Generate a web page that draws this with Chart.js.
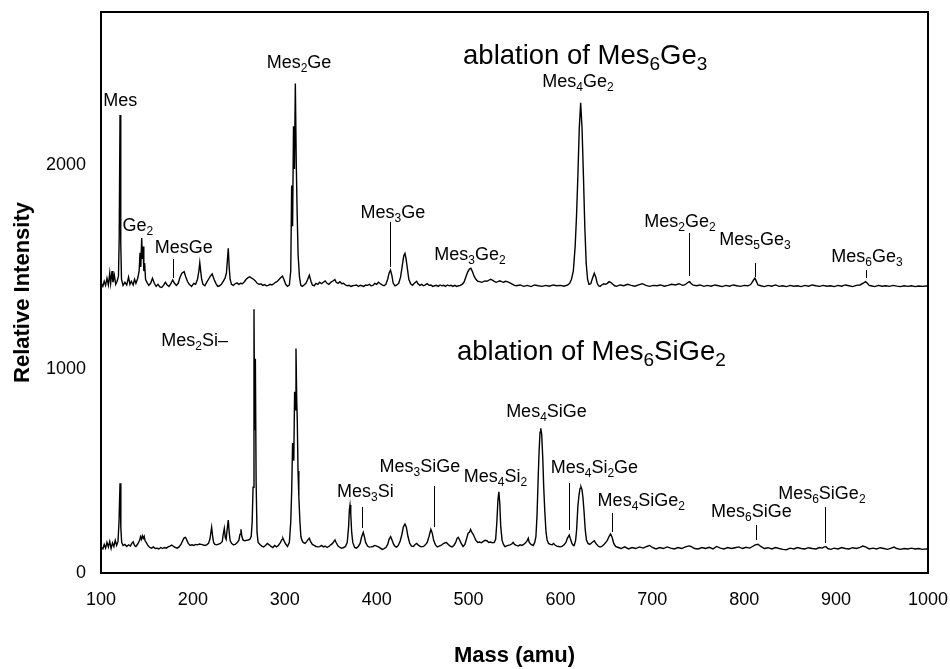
<!DOCTYPE html>
<html>
<head>
<meta charset="utf-8">
<script src="https://cdn.jsdelivr.net/npm/chart.js@4.4.1/dist/chart.umd.min.js"></script>
<style>
  html, body { margin: 0; padding: 0; background: #fff; }
  #wrap { width: 950px; height: 669px; }
</style>
</head>
<body>
<div id="wrap"><canvas id="chart" width="950" height="669"></canvas></div>
<script>
// ---------- Data (mass in amu, relative intensity) ----------
// upper trace: ablation of Mes6Ge3
const spectrumGe3 = [
  [100.5,1418],[102,1405],[103.5,1430],[105,1410],[106.5,1445],[108,1412],[109.5,1470],[110.5,1420],[112,1480],[113,1425],
  [114.5,1460],[116,1415],[117.5,1430],[119,1455],[119.8,1640],[120.7,2245],[121.5,1620],[122.3,1440],[124,1410],[126,1425],
  [128,1412],[130,1450],[131.5,1415],[133,1430],[135,1412],[136.5,1440],[138,1420],[140,1445],[141.5,1480],[142.5,1570],
  [143.3,1500],[144.3,1642],[145,1540],[145.8,1600],[146.6,1480],[147.5,1520],[148.5,1440],[150,1425],[152,1410],[154,1420],
  [156,1445],[158,1420],[160,1405],[162,1415],[164,1402],[166,1400],[168,1410],[170,1425],[172,1412],[174,1405],
  [176,1418],[178,1436],[180,1420],[182,1410],[184,1420],[186,1450],[188,1470],[190.5,1477],[192,1455],[194,1430],
  [196,1415],[198.5,1405],[201,1420],[203,1415],[205,1440],[206.5,1480],[207.5,1521],[208.5,1480],[209.5,1440],[211,1415],
  [213,1408],[215,1425],[217,1440],[219,1455],[221,1466],[223,1440],[225,1420],[227,1405],[229,1408],[231,1415],
  [233,1430],[235,1445],[236.5,1470],[237.5,1530],[238.5,1592],[239.5,1500],[240.5,1440],[242,1415],[244,1410],[246,1418],
  [248,1422],[250,1415],[252,1420],[254,1418],[256,1428],[258,1440],[260,1448],[262,1452],[264,1445],[266,1440],
  [268,1432],[270,1420],[272,1415],[274,1418],[276,1410],[278,1414],[280,1408],[282,1410],[284,1415],[286,1412],
  [288,1418],[290,1425],[292,1430],[294,1440],[296,1450],[297.5,1455],[299,1440],[301,1415],[303,1405],[305,1412],
  [306.5,1480],[307.5,1900],[308.5,1700],[309.5,2190],[310.5,1980],[311.5,2400],[312.5,2010],[313.5,1760],[314.5,1560],[316,1450],
  [317.5,1410],[319,1405],[321,1412],[323,1420],[325,1440],[326.7,1460],[328.5,1430],[330,1412],[332,1408],[334,1420],
  [336,1415],[338,1425],[340,1418],[342,1425],[344,1432],[346,1420],[348,1415],[350,1425],[352,1430],[354.5,1438],
  [356,1425],[358,1420],[360,1428],[362,1418],[364,1420],[366,1412],[368,1408],[370,1410],[372,1405],[374,1408],
  [376,1410],[378,1412],[380,1405],[382,1410],[384,1408],[386,1405],[388,1412],[390,1410],[392,1415],[394,1408],
  [396,1410],[398,1420],[400,1415],[402,1425],[404,1418],[406,1412],[408,1408],[410,1415],[412,1440],[413.5,1470],
  [415,1485],[416.5,1460],[418,1420],[420,1408],[422,1412],[424,1420],[426,1450],[428,1510],[429.5,1555],[430.8,1567],
  [432,1540],[433.5,1490],[435,1440],[437,1418],[439,1410],[441,1420],[443.5,1430],[445,1418],[447,1410],[449,1415],
  [451,1408],[453,1412],[455,1418],[457,1410],[459,1412],[461,1405],[463,1408],[465,1410],[467,1405],[469,1412],
  [471,1408],[473,1410],[475,1405],[477,1412],[479,1408],[481,1410],[483,1405],[485,1410],[487,1405],[489,1408],
  [491,1410],[493,1415],[495,1425],[497,1450],[499,1475],[501,1490],[502.5,1494],[504,1480],[506,1455],[508,1440],
  [510,1430],[512,1428],[514,1425],[516,1428],[518,1432],[520,1430],[522,1435],[524,1440],[526,1436],[528,1430],
  [530,1425],[532,1428],[534,1432],[536,1428],[538,1425],[540,1430],[542,1428],[544,1425],[546,1420],[548,1415],
  [550,1410],[552,1408],[556,1412],[560,1405],[564,1410],[568,1404],[572,1412],[576,1408],[580,1405],[584,1410],
  [588,1406],[592,1412],[596,1408],[600,1410],[604,1406],[608,1412],[610,1420],[612,1440],[614,1480],[616,1600],
  [617.5,1750],[619,1950],[620.5,2180],[622,2305],[623.5,2180],[625,1950],[626.5,1700],[628,1520],[629.5,1440],[631,1415],
  [633,1418],[634.5,1440],[636.8,1469],[638.5,1450],[640,1420],[641.5,1408],[643,1405],[645,1412],[647,1418],[649,1415],
  [651,1420],[653,1428],[655,1424],[657,1415],[659,1408],[661,1405],[665,1412],[669,1408],[673,1415],[677,1410],
  [681,1406],[685,1412],[689,1418],[693,1410],[697,1405],[701,1410],[705,1408],[709,1412],[713,1406],[717,1410],
  [721,1415],[725,1412],[729,1418],[733,1410],[735,1412],[737,1418],[739,1425],[740.5,1428],[742,1420],[744,1412],
  [748,1408],[752,1412],[756,1405],[760,1410],[764,1406],[768,1412],[772,1408],[776,1404],[780,1410],[784,1406],
  [788,1412],[792,1408],[796,1405],[800,1410],[804,1408],[807,1414],[810,1435],[811.6,1445],[813,1432],[815,1412],
  [818,1408],[822,1404],[826,1410],[830,1406],[834,1412],[838,1405],[842,1408],[846,1404],[850,1410],[854,1406],
  [858,1408],[862,1404],[866,1410],[870,1406],[874,1412],[878,1408],[882,1405],[886,1410],[890,1406],[894,1408],
  [898,1404],[902,1410],[906,1406],[910,1412],[914,1408],[918,1404],[922,1410],[926,1412],[930,1422],[932,1428],
  [934,1420],[936,1410],[938,1408],[942,1404],[946,1410],[950,1406],[954,1408],[958,1405],[962,1410],[966,1406],
  [970,1404],[974,1408],[978,1405],[982,1408],[986,1404],[990,1407],[994,1405],[998,1407],[1000,1406]
];

// lower trace: ablation of Mes6SiGe2
const spectrumSiGe2 = [
  [100.5,125],[102,118],[103.5,140],[105,122],[106.5,150],[108,128],[109.5,155],[111,120],[112.5,148],[114,130],
  [115.5,160],[117,135],[118.5,155],[119.6,250],[120.7,440],[121.6,220],[122.5,150],[124,135],[126,140],[128,130],
  [130,138],[132,132],[133.5,145],[135,153],[136.5,135],[138,130],[140,142],[142,160],[143,178],[144,165],
  [145,182],[146,170],[147,180],[148,158],[149.5,148],[151,135],[153,125],[155,122],[157,128],[159,120],
  [161,122],[163,118],[165,125],[167,120],[169,125],[171,122],[173,128],[175,132],[177,137],[179,130],
  [181,125],[183,122],[185,128],[187,140],[189,160],[190.5,172],[192,175],[193.5,160],[195,145],[197,135],
  [199,138],[201,135],[203,140],[205,138],[207,142],[209,140],[211,138],[213,135],[215,138],[217,145],
  [218.5,165],[220.4,224],[221.5,180],[222.5,150],[224,140],[226,138],[228,142],[230,145],[232,155],[233,190],
  [234.2,219],[235.2,175],[236.2,165],[237.2,210],[238.5,260],[239.5,200],[240.5,160],[242,145],[244,138],[246,140],
  [248,148],[250,160],[251.3,190],[252.3,214],[253.3,180],[254.5,162],[256,158],[258,160],[260,162],[262,165],
  [263.5,180],[264.5,250],[265.5,420],[266.5,1293],[267.2,700],[268,1050],[268.8,450],[269.8,200],[271,150],[273,140],
  [275,132],[277,128],[279,135],[281,145],[283,138],[285,130],[287,125],[289,135],[291,128],[293,135],
  [295,148],[297,165],[298,170],[299.5,155],[301,142],[303,130],[305,150],[306.5,250],[307.5,400],[308.5,637],
  [309.8,550],[310.7,889],[311.5,800],[312.2,1101],[313,850],[313.6,750],[314.4,500],[315.3,374],[316.5,250],[317.5,180],
  [318.5,162],[320,150],[322,145],[324,155],[325.5,165],[326.7,170],[328,155],[330,140],[332,135],[334,130],
  [336,128],[338,129],[340,135],[342,128],[344,132],[346,125],[348,130],[350,138],[352,145],[353.5,155],
  [354.6,162],[356,148],[358,132],[360,125],[362,121],[364,125],[366,130],[368,150],[369.5,230],[370.3,310],
  [371,333],[371.8,290],[372.8,200],[374,150],[376,125],[378,122],[380,130],[382,145],[383.5,175],[385.4,199],
  [386.5,180],[388,150],[390,132],[392,127],[394,128],[396,130],[398,135],[400,132],[402,128],[404,122],
  [406,116],[408,120],[410,125],[412,140],[413.5,165],[415.2,178],[416.8,160],[418.5,140],[420,130],[421.7,127],
  [423.5,135],[425.5,155],[427.5,190],[429,225],[430.8,240],[432.3,225],[434,180],[436,145],[438,132],[440,130],
  [441.8,140],[443.5,145],[445,138],[447,132],[449,128],[451,130],[453,138],[455,150],[457,180],[459,214],
  [460.5,195],[462,160],[464,138],[466,128],[468,132],[470,135],[472,142],[474,148],[476,149],[478,140],
  [480,132],[482,128],[484,135],[486,150],[487.5,170],[488.8,175],[490.5,160],[492,145],[494,130],[496,140],
  [498,170],[499.5,195],[501,200],[502.2,214],[503.5,200],[505,190],[506.5,175],[508,160],[510,150],[512,152],
  [514,148],[516,155],[518,160],[520,158],[522,150],[524,152],[526,148],[528,150],[529.5,165],[530.8,250],
  [532,360],[533,398],[534,340],[535,230],[536.5,160],[538,140],[539.6,129],[541,132],[543,135],[545,138],
  [547,142],[548.5,150],[550,140],[552,135],[554,132],[556,138],[558,135],[560,140],[562,148],[564,160],
  [565,170],[566,150],[568,140],[570.4,135],[572,150],[573.3,178],[574.5,280],[575.7,456],[576.8,600],[577.8,690],
  [578.6,709],[579.6,680],[580.8,560],[581.8,420],[583,300],[584.3,200],[585.5,162],[587,145],[589,140],[591,138],
  [592.5,145],[594,137],[596,132],[598,130],[600,128],[602,132],[604,138],[606,150],[607.5,170],[609.6,186],
  [611,165],[612.5,145],[614,135],[615,135],[616.5,160],[617.6,211],[619,330],[620.2,382],[621.3,415],[622.3,423],
  [623.4,410],[624.5,370],[625.7,300],[627,211],[628.3,162],[630,145],[632,140],[634,148],[636.8,158],[638.5,145],
  [641,132],[643,127],[645,130],[647,138],[649,148],[651,160],[653,180],[654.6,191],[656.2,175],[658,145],
  [660,130],[663,125],[666,120],[670,128],[674,118],[678,125],[682,120],[686,128],[690,122],[694,130],
  [697,135],[700,125],[704,118],[708,125],[712,120],[716,128],[720,122],[724,118],[728,125],[732,120],
  [736,128],[740,133],[742,130],[746,120],[750,118],[754,125],[758,120],[762,126],[766,118],[770,130],
  [774,122],[778,118],[782,125],[786,120],[790,124],[794,128],[798,120],[802,126],[806,122],[809,130],
  [812,138],[815,141],[818,130],[822,120],[826,124],[830,118],[834,125],[838,120],[842,116],[846,114],
  [850,122],[854,118],[858,125],[862,120],[866,118],[870,124],[874,120],[878,118],[882,125],[885,122],
  [887,128],[889,129],[891,120],[894,116],[898,122],[902,118],[906,125],[910,120],[914,118],[918,124],
  [922,120],[926,126],[929,132],[932,128],[936,118],[940,122],[944,118],[948,124],[952,120],[956,116],
  [960,122],[963,127],[966,120],[970,116],[974,120],[978,118],[982,122],[986,118],[990,120],[994,116],
  [998,118],[1000,117]
];

const massTicks = [100, 200, 300, 400, 500, 600, 700, 800, 900, 1000];
const intensityTicks = [0, 1000, 2000];

// peak labels: text ("_n" = subscript), mass, intensity of the text baseline,
// optional lead line [mass, from intensity, to intensity]
const peakLabels = [
  { text: 'Mes', mass: 121, at: 2289 },
  { text: 'Ge_2', mass: 140, at: 1677 },
  { text: 'MesGe', mass: 190, at: 1569, lead: [178.3, 1539, 1446] },
  { text: 'Mes_2Ge', mass: 315.5, at: 2475 },
  { text: 'Mes_3Ge', mass: 417.7, at: 1740, lead: [414.5, 1721, 1500] },
  { text: 'Mes_3Ge_2', mass: 501.5, at: 1534 },
  { text: 'Mes_4Ge_2', mass: 619, at: 2382 },
  { text: 'Mes_2Ge_2', mass: 730, at: 1696, lead: [739.8, 1667, 1456] },
  { text: 'Mes_5Ge_3', mass: 811.6, at: 1608, lead: [811.6, 1520, 1451] },
  { text: 'Mes_6Ge_3', mass: 933.5, at: 1525, lead: [932.4, 1485, 1446] },
  { text: 'Mes_2Si\u2013', mass: 238.2, at: 1113, align: 'right' },
  { text: 'Mes_3Si', mass: 387.8, at: 373, lead: [384, 324, 221] },
  { text: 'Mes_3SiGe', mass: 447, at: 495, lead: [462.3, 426, 225] },
  { text: 'Mes_4Si_2', mass: 529.3, at: 446 },
  { text: 'Mes_4SiGe', mass: 584.8, at: 765 },
  { text: 'Mes_4Si_2Ge', mass: 637, at: 490, lead: [609.2, 441, 211] },
  { text: 'Mes_4SiGe_2', mass: 688, at: 328, lead: [656, 294, 201] },
  { text: 'Mes_6SiGe', mass: 807.8, at: 275, lead: [812.7, 235, 162] },
  { text: 'Mes_6SiGe_2', mass: 884.5, at: 363, lead: [887.5, 324, 147] }
];

const traceTitles = [
  { text: 'ablation of Mes_6Ge_3', mass: 494, at: 2495 },
  { text: 'ablation of Mes_6SiGe_2', mass: 487.4, at: 1044 }
];

// ---------- Helpers ----------
const FONT = '"Liberation Sans", Arial, Helvetica, sans-serif';

function toPoints(pairs) {
  return pairs.map(p => ({ x: p[0], y: p[1] }));
}

// draws text with "_n" parts as subscripts
function drawChem(ctx, text, x, y, size, align) {
  const parts = text.split(/_(\d)/);
  const big = `${size}px ${FONT}`;
  const small = `${Math.round(size * 0.68)}px ${FONT}`;
  let w = 0;
  parts.forEach((p, i) => { ctx.font = i % 2 ? small : big; w += ctx.measureText(p).width; });
  let cx = align === 'right' ? x - w : align === 'left' ? x : x - w / 2;
  ctx.textAlign = 'left';
  ctx.textBaseline = 'alphabetic';
  parts.forEach((p, i) => {
    ctx.font = i % 2 ? small : big;
    ctx.fillText(p, cx, y + (i % 2 ? size * 0.22 : 0));
    cx += ctx.measureText(p).width;
  });
}

const annotatePlugin = {
  id: 'annotate',
  afterDatasetsDraw(chart) {
    const { ctx, chartArea: a, scales: { x, y } } = chart;
    ctx.save();
    ctx.fillStyle = '#000';
    ctx.strokeStyle = '#000';

    ctx.lineWidth = 1;
    peakLabels.forEach(l => {
      drawChem(ctx, l.text, x.getPixelForValue(l.mass), y.getPixelForValue(l.at), 18, l.align || 'center');
      if (l.lead) {
        const lx = Math.round(x.getPixelForValue(l.lead[0])) + 0.5;
        ctx.beginPath();
        ctx.moveTo(lx, y.getPixelForValue(l.lead[1]));
        ctx.lineTo(lx, y.getPixelForValue(l.lead[2]));
        ctx.stroke();
      }
    });

    traceTitles.forEach(t => {
      drawChem(ctx, t.text, x.getPixelForValue(t.mass), y.getPixelForValue(t.at), 27.5, 'left');
    });

    // frame round the plot
    ctx.lineWidth = 2;
    ctx.strokeRect(a.left, a.top, a.right - a.left, a.bottom - a.top);
    ctx.restore();
  }
};

// ---------- Chart ----------
const lineStyle = {
  borderColor: '#000',
  borderWidth: 1.4,
  pointRadius: 0,
  tension: 0,
  fill: false
};

new Chart(document.getElementById('chart'), {
  type: 'line',
  data: {
    datasets: [
      { label: 'Mes6Ge3', data: toPoints(spectrumGe3), ...lineStyle },
      { label: 'Mes6SiGe2', data: toPoints(spectrumSiGe2), ...lineStyle }
    ]
  },
  options: {
    responsive: false,
    animation: false,
    layout: { padding: { top: 12, right: 22, left: 0, bottom: 0 } },
    plugins: { legend: { display: false }, tooltip: { enabled: false } },
    scales: {
      x: {
        type: 'linear',
        min: massTicks[0],
        max: massTicks[massTicks.length - 1],
        afterBuildTicks: s => { s.ticks = massTicks.map(v => ({ value: v })); },
        afterFit: s => { s.height = 96; s.paddingLeft = 0; s.paddingRight = 0; },
        grid: { display: false, drawTicks: false },
        border: { display: false },
        ticks: {
          color: '#000', padding: 16, maxRotation: 0,
          font: { family: FONT, size: 18 },
          callback: v => String(v)
        },
        title: {
          display: true, text: 'Mass (amu)', color: '#000',
          padding: { top: 0, bottom: 0 },
          font: { family: FONT, size: 22, weight: 'bold' }
        }
      },
      y: {
        min: 0,
        max: 2750,
        afterBuildTicks: s => { s.ticks = intensityTicks.map(v => ({ value: v })); },
        afterFit: s => { s.width = 101; s.paddingTop = 0; s.paddingBottom = 0; },
        grid: { display: false, drawTicks: false },
        border: { display: false },
        ticks: {
          color: '#000', padding: 15,
          font: { family: FONT, size: 18 },
          callback: v => String(v)
        },
        title: {
          display: true, text: 'Relative Intensity', color: '#000',
          padding: { top: 10, bottom: 0 },
          font: { family: FONT, size: 22, weight: 'bold' }
        }
      }
    }
  },
  plugins: [annotatePlugin]
});
</script>
</body>
</html>
